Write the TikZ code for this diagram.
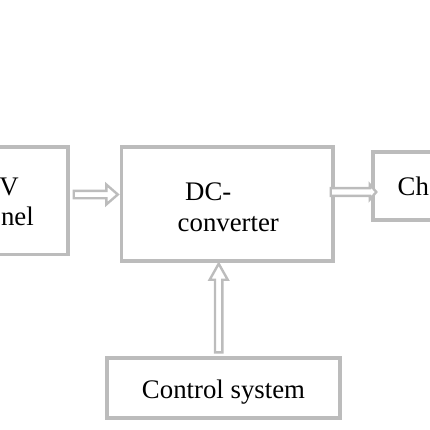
\documentclass[tikz,border=0pt]{standalone}
\usepackage{fontspec}
\setmainfont{Liberation Serif}
\usetikzlibrary{calc}
\definecolor{boxgray}{RGB}{188,188,188}
\begin{document}
\begin{tikzpicture}[x=1pt,y=-1pt,
  blockbox/.style={draw=boxgray, line width=3.4pt, rectangle, inner sep=0pt, fill=white},
  hollowarrow/.style={draw=boxgray, line width=2.4pt, fill=white, line join=miter},
  lbl/.style={inner sep=0pt, font=\fontsize{26.8}{32}\selectfont, text=black}]
\useasboundingbox (0,0) rectangle (430,430);
\clip (0,0) rectangle (430,430);
% boxes
\node[blockbox, minimum width=130pt, minimum height=107.5pt] (pv) at (3,200.75) {};
\node[blockbox, minimum width=211.5pt, minimum height=114pt] (dc) at (227.25,204) {};
\node[blockbox, minimum width=130pt, minimum height=68pt] (ch) at (438,186) {};
\node[blockbox, minimum width=233pt, minimum height=60pt] (ctrl) at (223.5,388) {};
% labels
\node[lbl, anchor=base east] (pvt1) at (19,195.5) {V};
\node[lbl, anchor=base east] (pvt2) at (34,225.5) {nel};
\node[lbl, anchor=base west] (dct1) at (185,200.5) {DC-};
\node[lbl, anchor=base west] (dct2) at (177.5,231) {converter};
\node[lbl, anchor=base west] (cht) at (397.5,195.5) {Ch};
\node[lbl, anchor=base] (ctrlt) at (223.5,398) {Control system};
% arrow PV -> DC
\coordinate (a1s) at ($(pv.east |- 0,194.5)+(4,0)$);
\coordinate (a1e) at ($(dc.west |- a1s)+(-2,0)$);
\draw[hollowarrow] ($(a1s)+(0,-3.7)$) -- ($(a1e)+(-11.5,-3.7)$) -- ($(a1e)+(-11.5,-10)$)
  -- (a1e) -- ($(a1e)+(-11.5,10)$) -- ($(a1e)+(-11.5,3.7)$) -- ($(a1s)+(0,3.7)$) -- cycle;
% arrow DC -> Charger
\coordinate (a2s) at ($(dc.east |- 0,192)+(-4,0)$);
\coordinate (a2e) at ($(ch.west |- a2s)+(5,0)$);
\draw[hollowarrow] ($(a2s)+(0,-3.8)$) -- ($(a2e)+(-6.5,-3.8)$) -- ($(a2e)+(-6.5,-7.5)$)
  -- (a2e) -- ($(a2e)+(-6.5,7.5)$) -- ($(a2e)+(-6.5,3.8)$) -- ($(a2s)+(0,3.8)$) -- cycle;
% arrow Control -> DC
\coordinate (a3s) at ($(ctrl.north -| 218.7,0)+(0,-4)$);
\coordinate (a3e) at ($(dc.south -| a3s)+(0,1)$);
\draw[hollowarrow] ($(a3s)+(-3.7,0)$) -- ($(a3e)+(-3.7,16)$) -- ($(a3e)+(-9,16)$)
  -- (a3e) -- ($(a3e)+(9,16)$) -- ($(a3e)+(3.7,16)$) -- ($(a3s)+(3.7,0)$) -- cycle;
\end{tikzpicture}
\end{document}
